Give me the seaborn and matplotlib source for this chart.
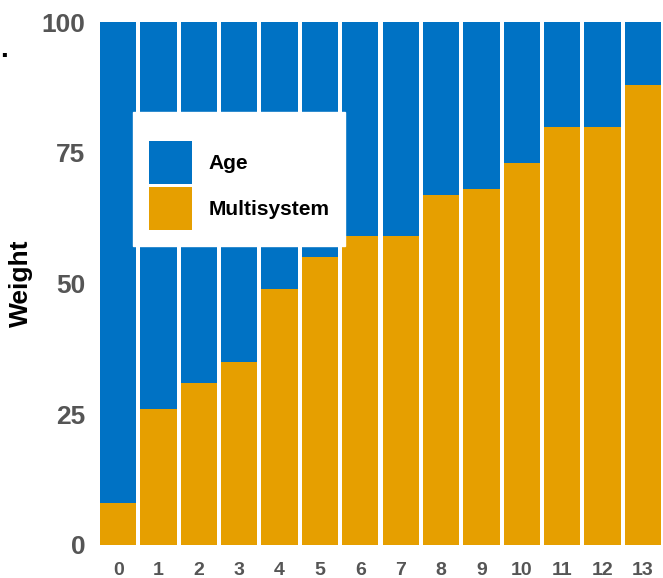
import matplotlib
matplotlib.use("Agg")
import matplotlib.pyplot as plt
import seaborn as sns
import pandas as pd
from matplotlib.patches import Patch

categories = ["0", "1", "2", "3", "4", "5", "6", "7", "8", "9", "10", "11", "12", "13"]
multisystem = [8, 26, 31, 35, 49, 55, 59, 59, 67, 68, 73, 80, 80, 88]
age = [100 - m for m in multisystem]
series_names = ["Age", "Multisystem"]
yticks = [0, 25, 50, 75, 100]

BLUE = "#0072C4"
ORANGE = "#E69F00"

sns.set_theme(style="white")
plt.rcParams['font.family'] = ['Liberation Sans', 'DejaVu Sans']

df = pd.DataFrame({"cat": categories, "Multisystem": multisystem, "Age": age})
df["total"] = df["Multisystem"] + df["Age"]

fig = plt.figure(figsize=(6.63, 5.78), dpi=100)
ax = fig.add_axes([98 / 663, 33 / 578, 565 / 663, 523 / 578])

sns.barplot(data=df, x="cat", y="total", color=BLUE, saturation=1, width=0.9,
            linewidth=0, ax=ax)
sns.barplot(data=df, x="cat", y="Multisystem", color=ORANGE, saturation=1, width=0.9,
            linewidth=0, ax=ax)

ax.set_xlim(-0.5, 13.5)
ax.set_ylim(0, 100)
ax.set_yticks(yticks)
ax.set_yticklabels([str(t) for t in yticks], fontsize=19, fontweight="bold", color="#555555")
ax.set_xticks(range(len(categories)))
ax.set_xticklabels(categories, fontsize=14, fontweight="bold", color="#555555")
ax.tick_params(axis="both", length=0)
ax.tick_params(axis="y", pad=9)
ax.tick_params(axis="x", pad=12)
ax.set_xlabel("")
ax.set_ylabel("Weight", fontsize=19, fontweight="bold", color="black")
ax.yaxis.set_label_coords(-0.115, 0.5)
for s in ax.spines.values():
    s.set_visible(False)

handles = [Patch(facecolor=BLUE, edgecolor="none"), Patch(facecolor=ORANGE, edgecolor="none")]
leg = ax.legend(handles, series_names, loc="upper left", bbox_to_anchor=(0.062, 0.828),
                borderaxespad=0, frameon=True, fancybox=False, framealpha=1,
                prop={"weight": "bold", "size": 15}, handlelength=2.07, handleheight=2.8,
                labelspacing=0.15, handletextpad=0.78, borderpad=0.77,
                title=" ", title_fontsize=8)
leg.get_frame().set_edgecolor("white")
leg.get_frame().set_facecolor("white")
for t in leg.get_texts():
    t.set_color("black")

fig.text(0 / 663, 1 - 57 / 578, ".", fontsize=20, fontweight="bold", color="black",
         ha="left", va="baseline")

fig.savefig("out.png", dpi=100)
